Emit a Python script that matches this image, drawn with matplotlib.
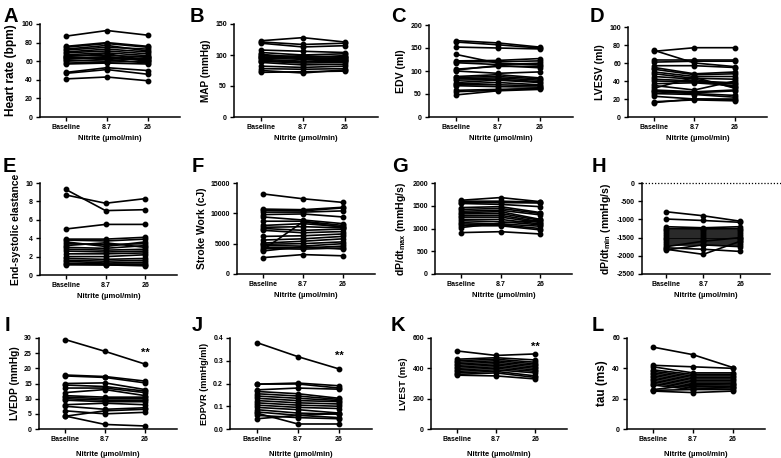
import matplotlib
matplotlib.use("Agg")
import matplotlib.pyplot as plt
import matplotlib.transforms as mtransforms

plt.rcParams['font.family'] = ['Liberation Sans', 'DejaVu Sans']
plt.rcParams['font.weight'] = 'bold'
plt.rcParams['axes.unicode_minus'] = False
plt.rcParams['mathtext.fontset'] = 'custom'
plt.rcParams['mathtext.rm'] = 'Liberation Sans:bold'
plt.rcParams['mathtext.bf'] = 'Liberation Sans:bold'
plt.rcParams['mathtext.it'] = 'Liberation Sans:bold'

conditions = ["Baseline", "8.7", "26"]
xlabel_text = "Nitrite (µmol/min)"

# A Heart rate
hr_base = [87, 76, 75, 73, 72, 70, 69, 67, 66, 64, 63, 62, 61, 60, 58, 57, 48, 47, 41, 65]
hr_87   = [93, 80, 79, 77, 75, 73, 71, 69, 66, 64, 63, 65, 60, 62, 59, 58, 53, 51, 43, 68]
hr_26   = [88, 76, 75, 71, 73, 70, 68, 66, 65, 63, 62, 60, 64, 58, 60, 57, 50, 46, 39, 61]
# B MAP
map_base = [123, 121, 119, 108, 104, 101, 99, 97, 95, 93, 91, 90, 88, 82, 78, 75, 72, 96, 100]
map_87   = [128, 117, 113, 106, 100, 96, 97, 95, 93, 90, 89, 87, 84, 80, 77, 71, 73, 99, 94]
map_26   = [121, 119, 115, 104, 102, 99, 97, 95, 94, 92, 90, 88, 85, 82, 78, 76, 74, 96, 92]
# C EDV
edv_base = [166, 163, 152, 136, 122, 120, 118, 104, 102, 100, 88, 86, 83, 80, 75, 72, 70, 68, 58, 55, 48]
edv_87   = [161, 157, 150, 117, 123, 120, 114, 110, 112, 95, 92, 88, 85, 82, 80, 75, 70, 66, 60, 58, 57]
edv_26   = [152, 150, 148, 113, 127, 122, 117, 110, 107, 98, 85, 83, 80, 77, 75, 70, 68, 65, 62, 63, 60]
# D LVESV
esv_base = [73, 74, 63, 61, 57, 55, 53, 50, 48, 45, 42, 40, 37, 35, 32, 30, 29, 28, 26, 23, 17, 16]
esv_87   = [77, 60, 63, 62, 57, 48, 47, 45, 43, 42, 40, 39, 38, 30, 44, 28, 27, 26, 25, 20, 19, 20]
esv_26   = [77, 56, 63, 62, 55, 50, 48, 45, 42, 33, 38, 37, 35, 40, 32, 30, 29, 24, 22, 20, 18, 19]
# E End-systolic elastance
ees_base = [9.3, 8.7, 5.0, 3.9, 3.8, 3.6, 3.4, 3.2, 3.0, 2.8, 2.6, 2.3, 2.0, 1.8, 1.6, 1.5, 1.3, 1.2, 1.1]
ees_87   = [7.0, 7.8, 5.5, 3.9, 3.7, 3.1, 3.3, 3.5, 2.9, 2.7, 2.5, 2.3, 2.0, 1.7, 1.5, 1.3, 1.2, 1.1, 1.1]
ees_26   = [7.1, 8.3, 5.5, 4.1, 3.9, 3.6, 3.4, 3.0, 3.2, 2.8, 2.6, 2.4, 2.2, 1.8, 1.6, 1.4, 1.2, 1.1, 1.0]
# F Stroke work
sw_base = [13200, 10700, 10500, 10200, 9800, 9400, 8700, 8000, 7700, 7500, 7200, 6200, 5600, 5100, 4900, 4700, 4400, 4200, 4000, 3800, 2700]
sw_87   = [12400, 10600, 10400, 10200, 9900, 8900, 8700, 8300, 7800, 7200, 6800, 6300, 5800, 5400, 5000, 4600, 4300, 4100, 8600, 4500, 3200]
sw_26   = [11800, 11000, 10900, 10400, 9400, 8300, 8000, 7800, 7600, 7400, 7000, 6600, 6200, 5800, 5300, 5000, 4600, 4300, 7700, 4100, 3000]
# G dP/dt max
dpmax_base = [1620, 1600, 1570, 1550, 1460, 1420, 1380, 1350, 1320, 1280, 1250, 1200, 1170, 1130, 1100, 1060, 1020, 910]
dpmax_87   = [1680, 1600, 1570, 1530, 1480, 1440, 1400, 1370, 1330, 1290, 1250, 1200, 1150, 1100, 1080, 1060, 1120, 930]
dpmax_26   = [1590, 1580, 1560, 1480, 1350, 1330, 1300, 1200, 1180, 1150, 1130, 1100, 1080, 1050, 1000, 970, 1180, 880]
# H dP/dt min
dpmin_base = [-790, -990, -1200, -1250, -1300, -1350, -1400, -1450, -1500, -1550, -1600, -1650, -1700, -1750, -1780, -1820, -1840]
dpmin_87   = [-900, -1030, -1230, -1260, -1300, -1350, -1400, -1450, -1500, -1550, -1600, -1650, -1700, -1600, -1820, -1960, -1700]
dpmin_26   = [-1050, -1080, -1200, -1250, -1300, -1350, -1400, -1450, -1500, -1550, -1600, -1650, -1700, -1500, -1880, -1600, -1750]
# I LVEDP
edp_base = [29.5, 17.8, 17.5, 15.0, 14.5, 13.5, 12.0, 11.0, 10.5, 10.0, 9.5, 8.0, 7.5, 6.0, 4.3, 4.2]
edp_87   = [25.6, 17.3, 17.0, 15.2, 14.0, 13.5, 13.0, 10.5, 10.0, 9.5, 9.0, 8.5, 6.5, 5.0, 1.5, 6.0]
edp_26   = [21.4, 15.8, 15.2, 13.0, 12.5, 12.0, 11.0, 10.5, 10.0, 9.5, 9.0, 8.0, 7.0, 5.5, 1.0, 6.5]
# J EDPVR
edpvr_base = [0.38, 0.197, 0.197, 0.172, 0.165, 0.155, 0.145, 0.135, 0.125, 0.115, 0.105, 0.095, 0.085, 0.075, 0.07, 0.06, 0.045]
edpvr_87   = [0.318, 0.202, 0.198, 0.18, 0.155, 0.145, 0.135, 0.125, 0.115, 0.105, 0.095, 0.085, 0.07, 0.06, 0.022, 0.05, 0.06]
edpvr_26   = [0.264, 0.19, 0.18, 0.175, 0.135, 0.13, 0.125, 0.12, 0.11, 0.1, 0.09, 0.07, 0.065, 0.05, 0.022, 0.045, 0.068]
# K LVEST
est_base = [515, 460, 450, 440, 430, 420, 410, 400, 390, 380, 370, 360, 355]
est_87   = [485, 470, 460, 450, 440, 430, 420, 410, 400, 390, 380, 370, 350]
est_26   = [495, 455, 440, 430, 420, 410, 400, 390, 380, 370, 350, 340, 330]
# L tau
tau_base = [54, 42, 41, 39, 38, 37, 36, 35, 34, 33, 32, 31, 30, 29, 26, 25.5, 25]
tau_87   = [49, 41, 37, 36, 35, 34, 33, 32, 31, 30, 29, 28, 27, 26, 29, 26, 24]
tau_26   = [40.5, 40, 37, 36, 35, 34, 33, 32, 31, 30, 29, 28, 27, 26, 30, 28, 25]

W, H = 781, 458
fig = plt.figure(figsize=(W / 100, H / 100), dpi=100)

panels = [
    ("A", (40, 24, 180, 117), (hr_base, hr_87, hr_26), (0, 100), [0, 20, 40, 60, 80, 100], "Heart rate (bpm)", 8.6, None, (3, 22)),
    ("B", (234, 24, 378, 117), (map_base, map_87, map_26), (0, 150), [0, 50, 100, 150], "MAP (mmHg)", 7.2, None, (190, 22)),
    ("C", (429, 25, 573, 117), (edv_base, edv_87, edv_26), (0, 200), [0, 50, 100, 150, 200], "EDV (ml)", 7.6, None, (391, 22)),
    ("D", (628, 27, 767, 117), (esv_base, esv_87, esv_26), (0, 100), [0, 20, 40, 60, 80, 100], "LVESV (ml)", 7.6, None, (590, 22)),
    ("E", (40, 183, 177, 275), (ees_base, ees_87, ees_26), (0, 10), [0, 2, 4, 6, 8, 10], "End-systolic elastance", 7.4, None, (3, 172)),
    ("F", (237, 183, 375, 274), (sw_base, sw_87, sw_26), (0, 15000), [0, 5000, 10000, 15000], "Stroke Work (cJ)", 7.4, None, (192, 172)),
    ("G", (435, 183, 572, 274), (dpmax_base, dpmax_87, dpmax_26), (0, 2000), [0, 500, 1000, 1500, 2000], r"dP/dt$_{\mathbf{max}}$ (mmHg/s)", 7.6, None, (392, 172)),
    ("H", (642, 183, 770, 274), (dpmin_base, dpmin_87, dpmin_26), (-2500, 0), [-2500, -2000, -1500, -1000, -500, 0], r"dP/dt$_{\mathbf{min}}$ (mmHg/s)", 7.6, None, (592, 172)),
    ("I", (39, 338, 177, 429), (edp_base, edp_87, edp_26), (0, 30), [0, 5, 10, 15, 20, 25, 30], "LVEDP (mmHg)", 7.3, 25, (5, 331)),
    ("J", (230, 338, 372, 429), (edpvr_base, edpvr_87, edpvr_26), (0, 0.4), [0.0, 0.1, 0.2, 0.3, 0.4], "EDPVR (mmHg/ml)", 6.6, 0.32, (192, 331)),
    ("K", (431, 338, 567, 429), (est_base, est_87, est_26), (0, 600), [0, 200, 400, 600], "LVEST (ms)", 6.8, 540, (391, 331)),
    ("L", (627, 338, 765, 429), (tau_base, tau_87, tau_26), (0, 60), [0, 20, 40, 60], "tau (ms)", 8.4, None, (592, 331)),
]

xpos = [0, 1, 2]
for letter, (l, t, r, b), data, ylim, yticks, ylabel, lsize, stars, (lx, ly) in panels:
    ax = fig.add_axes([l / W, 1 - b / H, (r - l) / W, (b - t) / H])
    base, mid, high = data
    for v0, v1, v2 in zip(base, mid, high):
        ax.plot(xpos, [v0, v1, v2], color="black", lw=1.2, marker="o", ms=3.2,
                clip_on=False, zorder=3)
    ax.set_xlim(-0.65, 2.8)
    ax.set_ylim(*ylim)
    ax.set_yticks(yticks)
    if letter == "J":
        ax.set_yticklabels([f"{v:.1f}" for v in yticks])
    ax.set_xticks(xpos)
    ax.set_xticklabels(conditions)
    for s in ["top", "right"]:
        ax.spines[s].set_visible(False)
    for s in ["left", "bottom"]:
        ax.spines[s].set_linewidth(1.1)
    ax.tick_params(axis="both", labelsize=5, width=1.0, length=3, pad=2)
    for lab in ax.get_xticklabels() + ax.get_yticklabels():
        lab.set_fontweight("bold")
    ax.set_ylabel(ylabel, fontsize=lsize, fontweight="bold", labelpad=3)
    row3 = letter in "IJKL"
    ax.set_xlabel(xlabel_text, fontsize=5.5, fontweight="bold", labelpad=5.5 if row3 else 3)
    if stars is not None:
        ax.text(2, stars, "**", ha="center", va="center", fontsize=8, fontweight="bold")
    if letter == "H":
        trans = mtransforms.blended_transform_factory(ax.transAxes, ax.transData)
        ax.plot([0, 1.1], [0, 0], color="black", lw=0.9, ls=(0, (1, 1.5)),
                transform=trans, clip_on=False)
    fig.text(lx / W, 1 - ly / H, letter, fontsize=14.5, fontweight="bold",
             ha="left", va="baseline")

fig.savefig("out.png", dpi=100)
